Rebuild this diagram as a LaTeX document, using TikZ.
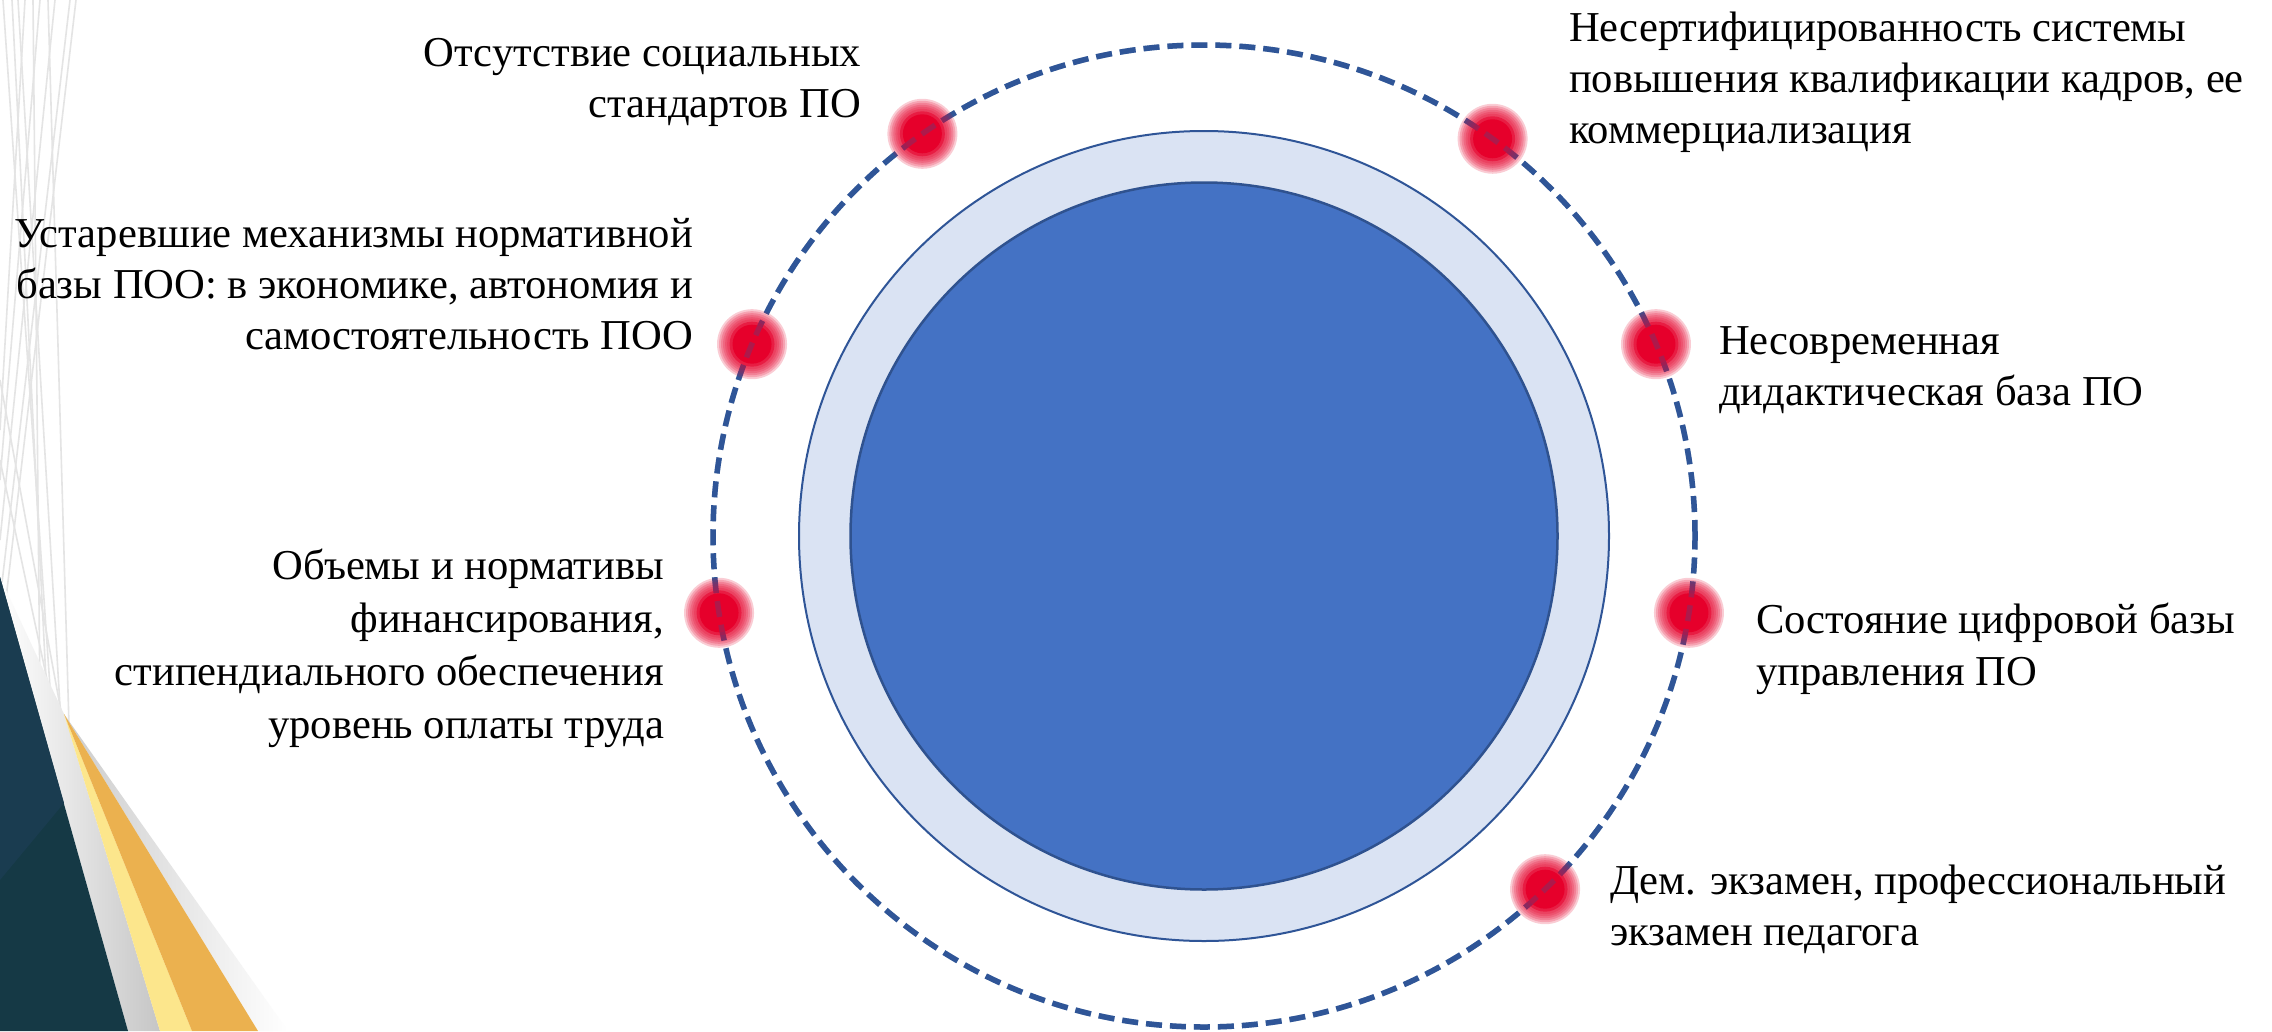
\documentclass[tikz,border=0pt]{standalone}
\usepackage{fontspec}
\setmainfont{Liberation Serif}

\definecolor{dashblue}{HTML}{2F5597}
\definecolor{ringfill}{HTML}{DAE3F3}
\definecolor{corefill}{HTML}{4472C4}
\definecolor{coreline}{HTML}{2F528F}
\definecolor{dotred}{HTML}{E6002B}
\definecolor{tealdark}{HTML}{153945}
\definecolor{tealblue}{HTML}{1A3C50}
\definecolor{paleyellow}{HTML}{FCE68C}
\definecolor{goldstripe}{HTML}{EBB14F}
\definecolor{greyline}{HTML}{E4E4E4}

\newcommand{\firststrut}{\rule{0pt}{31pt}}

\tikzset{
  lbl/.style={inner sep=0pt, outer sep=0pt, font=\fontsize{42.6}{51}\selectfont, text=black},
  lblL/.style={lbl, anchor=north west, align=left},
  lblR/.style={lbl, anchor=north east, align=right},
  halo/.style={fill=dotred, fill opacity=0.2},
  bgline/.style={draw=greyline, line width=1.6pt},
  orbitstyle/.style={circle, minimum size=982pt, inner sep=0pt, outer sep=0pt, draw=dashblue, line width=5.5pt, dash pattern=on 16pt off 8pt},
}

\begin{document}
\begin{tikzpicture}[x=1pt,y=-1pt]
\useasboundingbox (0,0) rectangle (2272,1031);
\fill[white] (0,0) rectangle (2272,1031);

% faint decorative lines, top left
\foreach \xa/\yb in {25/430,40/480,55/540,70/600,76/650}
  \draw[bgline] (\xa,0) -- (0,\yb);
\foreach \xa/\xb/\yb in {3/55/760,12/48/720,18/62/740,33/40/700,48/70/760}
  \draw[bgline] (\xa,0) -- (\xb,\yb);
\draw[bgline] (0,380) -- (70,760);
\draw[bgline] (0,460) -- (60,740);

% bottom-left decoration
\shade[left color=white, right color=gray!45] (0,577) -- (128,1031) -- (160,1031) -- (64,714) -- cycle;
\shade[left color=gray!40, right color=white] (64,714) -- (258,1031) -- (288,1031) -- cycle;
\fill[tealdark] (0,577) -- (128,1031) -- (0,1031) -- cycle;
\fill[tealblue] (0,577) -- (64,803) -- (0,880) -- cycle;
\fill[paleyellow] (64,714) -- (160,1031) -- (192,1031) -- cycle;
\fill[goldstripe] (64,714) -- (192,1031) -- (258,1031) -- cycle;

% circles
\node[circle, minimum size=810pt, inner sep=0pt, outer sep=0pt, fill=ringfill, draw=dashblue, line width=2pt] (ring) at (1204,536) {};
\node[circle, minimum size=707pt, inner sep=0pt, outer sep=0pt, fill=corefill, draw=coreline, line width=2.5pt] (core) at (1204,536) {};
\node[orbitstyle] (orbit) at (1204,536) {};

% points on the orbit
\coordinate (d1) at (orbit.125.4);
\coordinate (d2) at (orbit.54.2);
\coordinate (d3) at (orbit.157.4);
\coordinate (d4) at (orbit.23.0);
\coordinate (d5) at (orbit.189.2);
\coordinate (d6) at (orbit.-9.0);
\coordinate (d7) at (orbit.-46.5);
\foreach \d in {d1,d2,d3,d4,d5,d6,d7}{
  \foreach \r in {35,33,31,29,27,25}
    \fill[halo] (\d) circle (\r pt);
  \fill[dotred, fill opacity=0.55] (\d) circle (22.5pt);
  \fill[dotred] (\d) circle (19.5pt);
}
% dashed line showing through the dots
\node[orbitstyle, draw opacity=0.3] (orbitover) at (1204,536) {};

% labels
\node[lblR] (t1) at (861,35) {\firststrut Отсутствие социальных\\стандартов ПО};
\node[lblR] (t2) at (693,216) {\firststrut Устаревшие механизмы нормативной\\базы ПОО: в экономике, автономия и\\самостоятельность ПОО};
\node[lblR, font=\fontsize{42.6}{53}\selectfont] (t3) at (664,548) {\firststrut Объемы и нормативы\\финансирования,\\стипендиального обеспечения\\уровень оплаты труда};
\node[lblL] (t4) at (1569,10) {\firststrut Несертифицированность системы\\повышения квалификации кадров, ее\\коммерциализация};
\node[lblL] (t5) at (1719,323) {\firststrut Несовременная\\дидактическая база ПО};
\node[lblL, font=\fontsize{42.6}{52}\selectfont] (t6) at (1756,602) {\firststrut Состояние цифровой базы\\управления ПО};
\node[lblL] (t7) at (1610,863) {\firststrut Дем. экзамен, профессиональный\\экзамен педагога};
\end{tikzpicture}
\end{document}
